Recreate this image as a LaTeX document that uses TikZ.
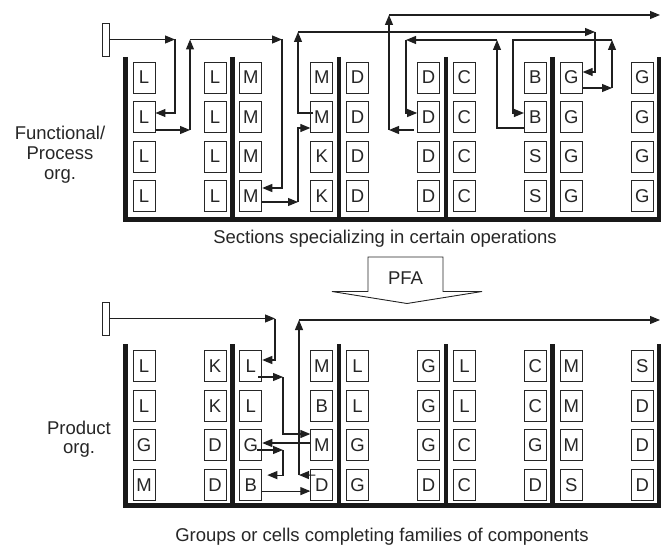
\documentclass[tikz,border=0pt]{standalone}
\usepackage{fontspec}
\setmainfont{Liberation Sans}
\usetikzlibrary{arrows.meta}
\begin{document}
\begin{tikzpicture}[x=1pt,y=-1pt,
  box/.style={draw=black!85,line width=0.9pt,fill=white,minimum width=22pt,minimum height=31pt,inner sep=0pt,text=black!85,font=\fontsize{18.5}{18.5}\selectfont},
  wall/.style={draw=black!90,line width=4.5pt},
  arr/.style={draw=black!88,line width=1.1pt,-{Triangle[length=10pt,width=8pt]}},
  lbl/.style={text=black!85,font=\fontsize{18.5}{22}\selectfont,inner sep=0pt,anchor=base},
  startbox/.style={draw=black!85,line width=0.9pt,minimum width=7pt,minimum height=33pt,inner sep=0pt}]
\useasboundingbox (0,0) rectangle (661,545);

% walls
\foreach \s in {0,...,5}{
  \pgfmathsetmacro\wx{125.5+106.8*\s}
  \draw[wall] (\wx,57) -- (\wx,219.5);
  \draw[wall] (\wx,344) -- (\wx,505.5);
}
\draw[wall] (123.25,219.5) -- (661,219.5);
\draw[wall] (123.25,505.5) -- (661,505.5);

% top boxes
\foreach \s/\kA/\kB/\kC/\kD/\jA/\jB/\jC/\jD in {1/L/L/L/L/L/L/L/L,2/M/M/M/M/M/M/K/K,3/D/D/D/D/D/D/D/D,4/C/C/C/C/B/B/S/S,5/G/G/G/G/G/G/G/G}{
  \pgfmathsetmacro\xa{125.5+106.8*(\s-1)+18.5}
  \pgfmathsetmacro\xb{125.5+106.8*(\s-1)+89.5}
  \node[box] (T\s a1) at (\xa,77.5) {\kA};
  \node[box] (T\s a2) at (\xa,117) {\kB};
  \node[box] (T\s a3) at (\xa,156.5) {\kC};
  \node[box] (T\s a4) at (\xa,196) {\kD};
  \node[box] (T\s b1) at (\xb,77.5) {\jA};
  \node[box] (T\s b2) at (\xb,117) {\jB};
  \node[box] (T\s b3) at (\xb,156.5) {\jC};
  \node[box] (T\s b4) at (\xb,196) {\jD};
}
% bottom boxes
\foreach \s/\kA/\kB/\kC/\kD/\jA/\jB/\jC/\jD in {1/L/L/G/M/K/K/D/D,2/L/L/G/B/M/B/M/D,3/L/L/G/G/G/G/G/D,4/L/L/C/C/C/C/G/D,5/M/M/M/S/S/D/D/D}{
  \pgfmathsetmacro\xa{125.5+106.8*(\s-1)+18.5}
  \pgfmathsetmacro\xb{125.5+106.8*(\s-1)+89.5}
  \node[box] (B\s a1) at (\xa,366) {\kA};
  \node[box] (B\s a2) at (\xa,405.7) {\kB};
  \node[box] (B\s a3) at (\xa,445.4) {\kC};
  \node[box] (B\s a4) at (\xa,485.1) {\kD};
  \node[box] (B\s b1) at (\xb,366) {\jA};
  \node[box] (B\s b2) at (\xb,405.7) {\jB};
  \node[box] (B\s b3) at (\xb,445.4) {\jC};
  \node[box] (B\s b4) at (\xb,485.1) {\jD};
}

% start markers
\node[startbox] (TS) at (105.5,39.5) {};
\node[startbox] (BS) at (105.5,318.5) {};

% labels
\node[lbl] (f1) at (60,140) {Functional/};
\node[lbl] (f2) at (60,160) {Process};
\node[lbl] (f3) at (60,180) {org.};
\node[lbl] (p1) at (79,434) {Product};
\node[lbl] (p2) at (79,453) {org.};
\node[lbl] (sec) at (385,244) {Sections specializing in certain operations};
\node[lbl] (grp) at (382,541) {Groups or cells completing families of components};

% PFA block arrow
\draw[draw=black!85,line width=0.9pt,fill=white] (368,257) -- (443,257) -- (443,291.5) -- (482,291.5) -- (407,303.5) -- (332,291.5) -- (368,291.5) -- cycle;
\node[lbl] (pfa) at (405.5,285) {PFA};

% top flow
\coordinate (c1) at (175,39.5);
\coordinate (c2) at (190,130);
\coordinate (c3) at (190,39.5);
\coordinate (c4) at (282,39.5);
\coordinate (c5) at (298,202);
\coordinate (c6) at (298,32);
\coordinate (c7) at (595,32);
\coordinate (c8) at (612,88);
\coordinate (c9) at (612,40);
\coordinate (c10) at (513,40);
\coordinate (c11) at (497,40);
\coordinate (c12) at (406,40);
\coordinate (c13) at (389,130);
\coordinate (c14) at (389,15);
\coordinate (c15) at (660,15);

\draw[arr] (TS.east) -- (c1);
\draw[arr] (c1) |- ([yshift=4pt]T1a2.east);
\draw[arr] ([yshift=-13pt]T1a2.east) -- (c2);
\draw[arr] (c2) -- (c3);
\draw[arr] (c3) -- (c4);
\draw[arr] (c4) |- ([yshift=8pt]T2a4.east);
\draw[arr] ([yshift=-6pt]T2a4.east) -- (c5);
\draw[arr] (c5) |- ([yshift=-11pt]T2b2.west);
\draw[arr] ([xshift=3pt,yshift=4pt]T2b2.west) -| (c6);
\draw[arr] (c6) -- (c7);
\draw[arr] (c7) |- ([yshift=5.5pt]T5a1.east);
\draw[arr] ([yshift=-10.5pt]T5a1.east) -- (c8);
\draw[arr] (c8) -- (c9);
\draw[arr] (c9) -- (c10) |- ([yshift=4pt]T4b2.west);
\draw[arr] ([yshift=-11pt]T4b2.west) -| (c11);
\draw[arr] (c11) -- (c12);
\draw[arr] (c12) |- ([yshift=4pt]T3b2.west);
\draw[arr] ([xshift=-3pt,yshift=-13pt]T3b2.west) -- (c13);
\draw[arr] (c13) -- (c14);
\draw[arr] (c14) -- (c15);

% bottom flow
\coordinate (d1) at (275,318.5);
\coordinate (d2) at (283,377);
\coordinate (d3) at (283,450);
\coordinate (d4) at (299,475);
\coordinate (d5) at (299,320);
\coordinate (d6) at (660,320);

\draw[arr] (BS.east) -- (d1);
\draw[arr] (d1) |- ([yshift=6pt]B2a1.east);
\draw[arr] ([xshift=-4pt,yshift=-11pt]B2a1.east) -- (d2);
\draw[arr] (d2) |- ([yshift=11.4pt]B2b3.west);
\draw[arr] ([yshift=2.4pt]B2b3.west) -- ([yshift=2.4pt]B2a3.east);
\draw[arr] ([xshift=-5pt,yshift=-4.6pt]B2a3.east) -- (d3);
\draw[arr] (d3) |- ([xshift=5pt,yshift=10pt]B2a4.east);
\draw[arr] ([yshift=-6pt]B2a4.east) -- ([yshift=-6pt]B2b4.west);
\draw[arr] ([xshift=5pt,yshift=10pt]B2b4.west) -- (d4);
\draw[arr] (d4) -- (d5);
\draw[arr] (d5) -- (d6);
\end{tikzpicture}
\end{document}
